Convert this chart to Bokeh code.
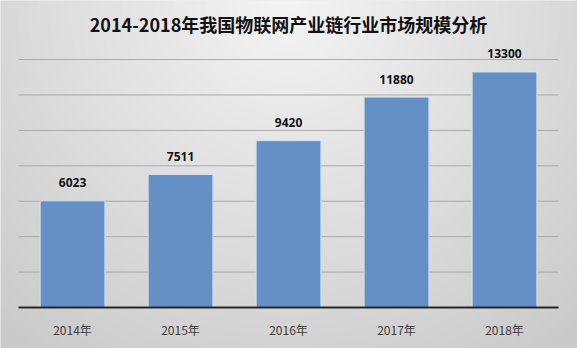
import numpy as np
from bokeh.plotting import figure
from bokeh.models import Range1d, ColumnDataSource
from bokeh.core.properties import value
from bokeh.embed import file_html
from bokeh.resources import INLINE

# ---- data ----
years = ["2014年", "2015年", "2016年", "2017年", "2018年"]
market_size = [6023, 7511, 9420, 11880, 13300]
grid_values = [2000, 4000, 6000, 8000, 10000, 12000, 14000]
title_text = "2014-2018年我国物联网产业链行业市场规模分析"

W, H = 577, 348
x_lo, x_hi = -0.667, 4.676
y_lo, y_hi = -2315, 17335

p = figure(width=W, height=H, output_backend="svg", toolbar_location=None,
           x_range=Range1d(x_lo, x_hi), y_range=Range1d(y_lo, y_hi),
           min_border=0)
p.axis.visible = False
p.grid.visible = False
p.outline_line_color = None
p.background_fill_color = "#dedede"
p.border_fill_color = "#dedede"

# background radial gradient (styling)
yy, xx = np.mgrid[0:H, 0:W]
r = np.sqrt((xx - 288.0) ** 2 + (yy - 0.0) ** 2)
v = 244 - 42 * np.clip(r / 440.0, 0, 1)
v = v[::-1].astype(np.uint32)
img = (np.uint32(255) << 24) | (v << 16) | (v << 8) | v
p.image_rgba(image=[img.astype(np.uint32)], x=x_lo, y=y_lo, dw=x_hi - x_lo, dh=y_hi - y_lo, level="image")

xs = list(range(len(years)))
src = ColumnDataSource(dict(x=xs, top=market_size, year=years,
                            lab=[str(v_) for v_ in market_size]))

# gridlines
p.segment(x0=[-0.5] * len(grid_values), x1=[4.5] * len(grid_values),
          y0=grid_values, y1=grid_values, line_color="#a9a9a9", line_width=1)

# bars
p.vbar(x="x", top="top", bottom=0, width=0.6, source=src,
       fill_color="#6590c5", line_color="#d5e0ef", line_width=1)

# baseline
p.segment(x0=[-0.5], x1=[4.5], y0=[0], y1=[0], line_color="#262626", line_width=2)

# value labels
p.text(x="x", y="top", text="lab", source=src, text_align="center",
       text_baseline="middle", y_offset=-18, text_font=value("Open Sans"),
       text_font_style="bold", text_font_size="12px", text_color="#111111")

# category labels
p.text(x="x", y=0, text="year", source=src, text_align="center",
       text_baseline="middle", y_offset=22, text_font=value("Noto Sans CJK SC"),
       text_font_size="12px", text_color="#404040")

# title
p.text(x=[2.0], y=[15990], text=[title_text], text_align="center",
       text_baseline="middle", text_font=value("Noto Sans CJK SC"),
       text_font_style="bold", text_font_size="18px", text_color="#111111")

open("out.html", "w").write(file_html(p, INLINE))
